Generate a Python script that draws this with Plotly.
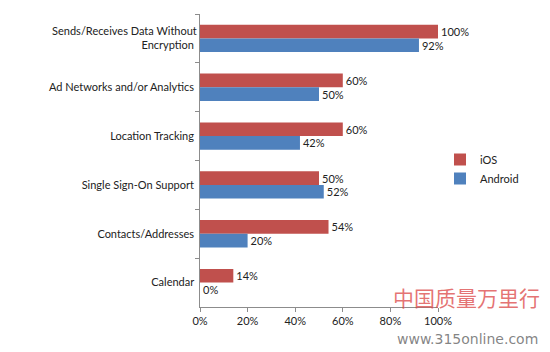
import plotly.graph_objects as go

categories = ["Sends/Receives Data Without<br>Encryption", "Ad Networks and/or Analytics",
              "Location Tracking", "Single Sign-On Support", "Contacts/Addresses", "Calendar"]
ios = [1.00, 0.60, 0.60, 0.50, 0.54, 0.14]
android = [0.92, 0.50, 0.42, 0.52, 0.20, 0.00]
x_ticks = [0, 0.2, 0.4, 0.6, 0.8, 1.0]
x_tick_labels = ["0%", "20%", "40%", "60%", "80%", "100%"]

FONT = "Lato, Carlito, Open Sans, sans-serif"

fig = go.Figure()
fig.add_trace(go.Bar(name="iOS", y=categories, x=ios, orientation="h",
                     marker=dict(color="#C0504D", line=dict(width=0)),
                     text=[f"{v:.0%}" for v in ios], textposition="outside",
                     cliponaxis=False, textfont=dict(size=11, color="#222")))
fig.add_trace(go.Bar(name="Android", y=categories, x=android, orientation="h",
                     marker=dict(color="#4F81BD", line=dict(width=0)),
                     text=[f"{v:.0%}" for v in android], textposition="outside",
                     cliponaxis=False, textfont=dict(size=11, color="#222")))

L, R, T, B = 200, 438, 14, 307
def px(x):
    return (x - L) / (R - L)
def py(y):
    return (B - y) / (B - T)

fig.update_layout(
    width=550, height=352,
    margin=dict(l=L, r=550 - R, t=T, b=352 - B, autoexpand=False),
    paper_bgcolor="white", plot_bgcolor="white",
    barmode="group", bargap=0.44, bargroupgap=0,
    font=dict(family=FONT, size=11, color="#222"),
    legend=dict(x=px(440), y=py(145), xanchor="left", yanchor="top",
                font=dict(size=11), bgcolor="rgba(0,0,0,0)",
                itemwidth=30, tracegroupgap=0),
    xaxis=dict(range=[0, 1], tickvals=x_ticks, ticktext=x_tick_labels,
               showgrid=False, zeroline=False, showline=True, linecolor="#8c8c8c",
               ticks="outside", ticklen=4, tickcolor="#8c8c8c", tickfont=dict(size=11)),
    yaxis=dict(autorange="reversed", showgrid=False, showline=True, linecolor="#8c8c8c",
               ticks="outside", ticklen=4, tickcolor="#8c8c8c", tickson="boundaries",
               tickfont=dict(size=11), ticksuffix=" "),
)

# watermark
fig.add_annotation(x=px(542), y=py(297), xref="paper", yref="paper",
                   xanchor="right", yanchor="middle",
                   text="中国质量万里行", showarrow=False,
                   font=dict(size=21, color="rgba(220,70,70,0.75)", family="Noto Sans CJK SC"))
fig.add_annotation(x=px(540), y=py(339), xref="paper", yref="paper",
                   xanchor="right", yanchor="middle",
                   text="www.315online.com", showarrow=False,
                   font=dict(size=14, color="rgba(110,110,110,0.85)", family="DejaVu Sans"))

fig.write_html("out.html")
